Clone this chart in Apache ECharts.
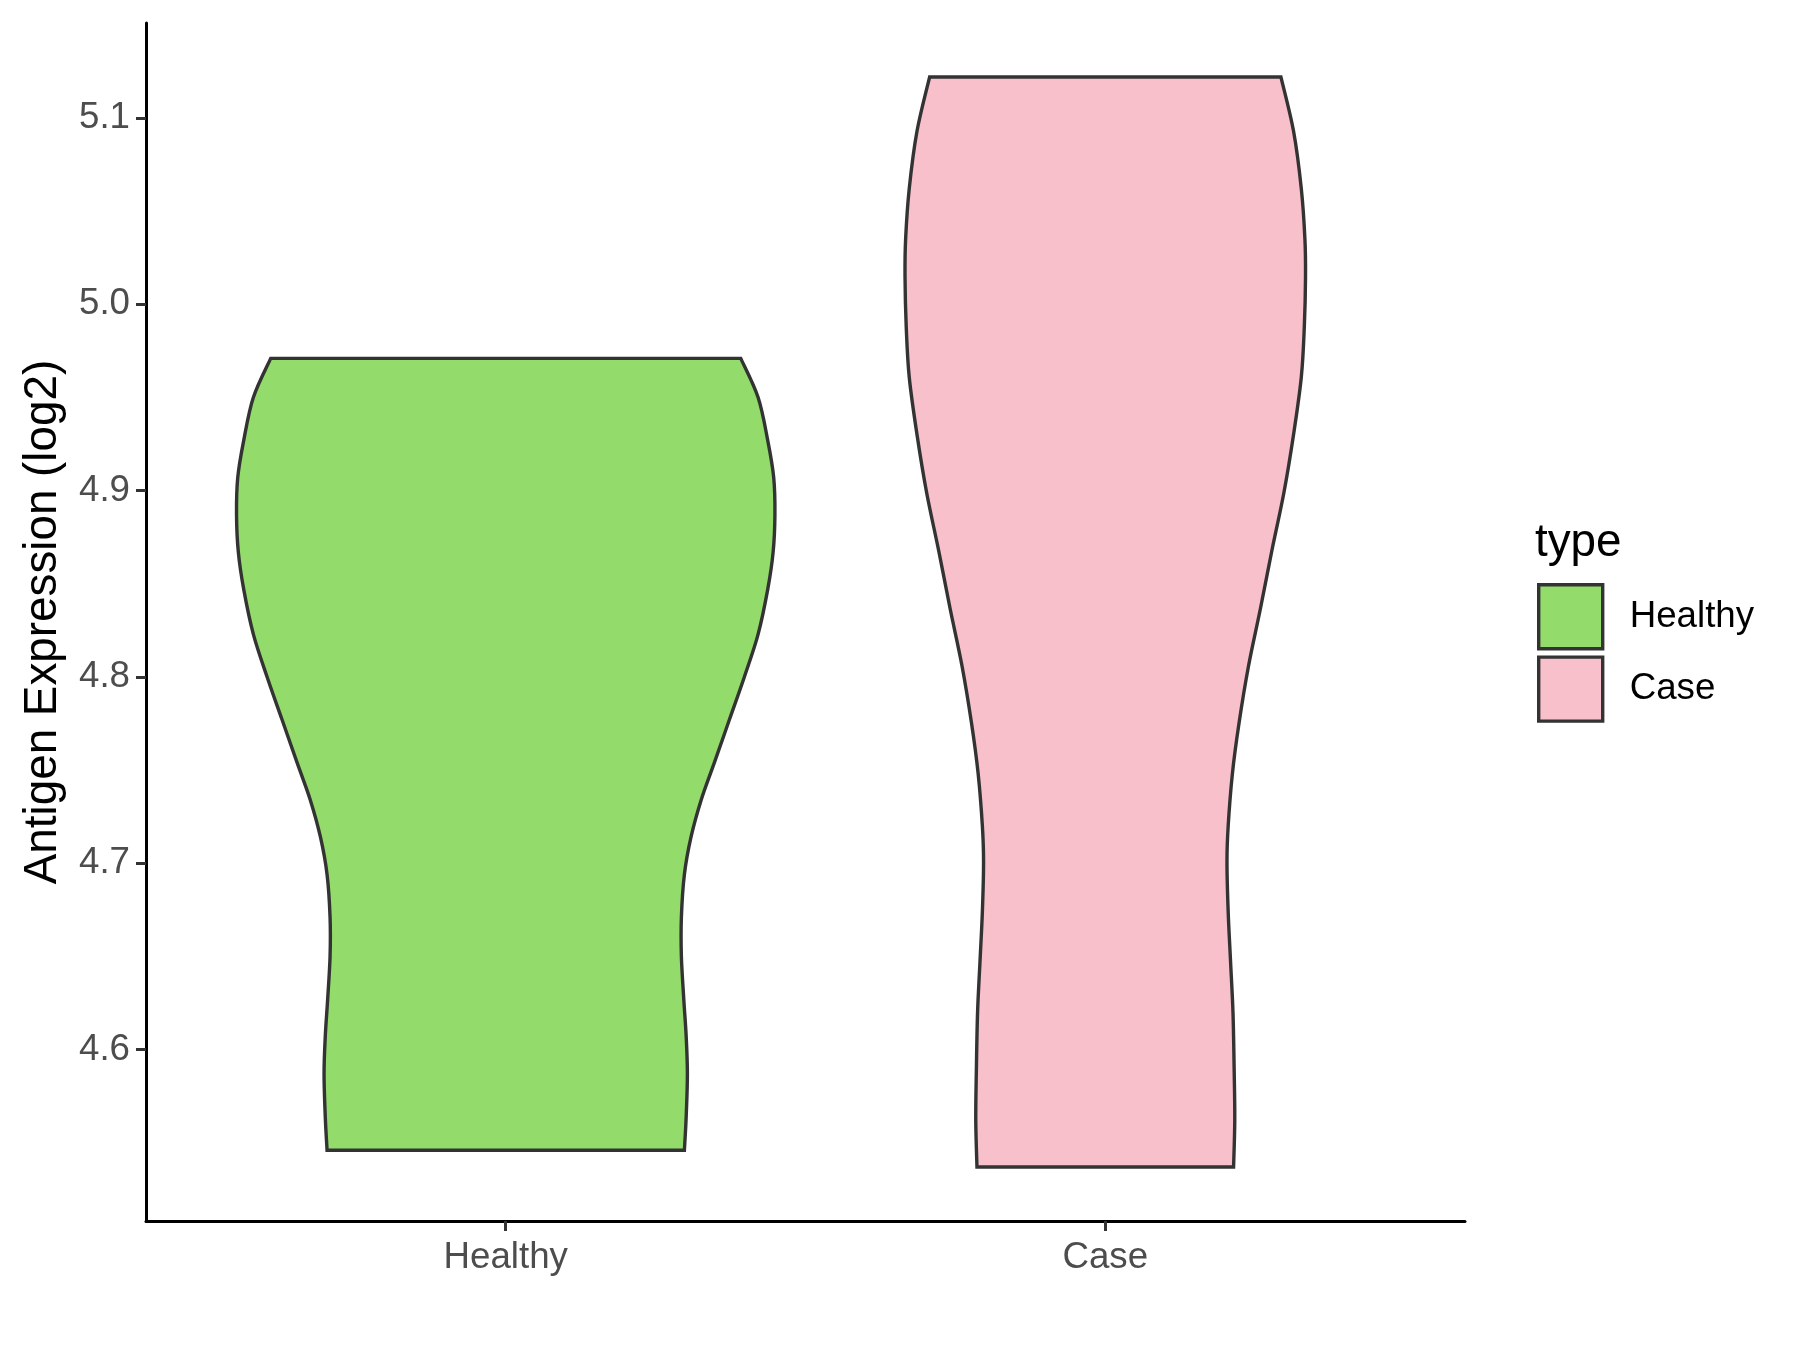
<!DOCTYPE html>
<html>
<head>
<meta charset="utf-8">
<script src="https://cdn.jsdelivr.net/npm/echarts@6/dist/echarts.min.js"></script>
<style>
html,body{margin:0;padding:0;background:#fff;}
#chart{width:1800px;height:1350px;}
</style>
</head>
<body>
<div id="chart"></div>
<script>
// ---- data ----
const categories = ['Healthy', 'Case'];
const yTicks = [4.6, 4.7, 4.8, 4.9, 5.0, 5.1];
// violin outlines: expression value (top to bottom) and half-width in category units
const healthyValues = [4.971, 4.950, 4.927, 4.907, 4.887, 4.867, 4.847, 4.823, 4.800, 4.777, 4.754, 4.734, 4.714, 4.694, 4.671, 4.650, 4.627, 4.607, 4.587, 4.564, 4.546];
const healthyHalfWidths = [0.392, 0.421, 0.437, 0.447, 0.449, 0.446, 0.437, 0.421, 0.398, 0.373, 0.348, 0.326, 0.309, 0.298, 0.293, 0.293, 0.297, 0.301, 0.303, 0.301, 0.298];
const caseValues = [5.122, 5.093, 5.062, 5.035, 5.015, 4.988, 4.961, 4.930, 4.899, 4.868, 4.837, 4.806, 4.775, 4.748, 4.720, 4.701, 4.674, 4.647, 4.620, 4.589, 4.562, 4.537];
const caseHalfWidths = [0.293, 0.314, 0.327, 0.333, 0.334, 0.332, 0.327, 0.314, 0.298, 0.278, 0.259, 0.239, 0.223, 0.212, 0.205, 0.203, 0.205, 0.209, 0.213, 0.215, 0.216, 0.214];
const colors = ['#93DB6A', '#F7C0CB'];

const profiles = [
  {values: healthyValues, hw: healthyHalfWidths},
  {values: caseValues, hw: caseHalfWidths}
];

const FONT = '"Liberation Sans", Arial, Helvetica, sans-serif';
const STROKE = '#333333';

// smooth curve through the given pixel points (Catmull-Rom drawn as cubic Beziers)
function curveThrough(pts) {
  let d = '';
  const n = pts.length;
  for (let i = 0; i < n - 1; i++) {
    const p0 = pts[Math.max(i - 1, 0)], p1 = pts[i], p2 = pts[i + 1], p3 = pts[Math.min(i + 2, n - 1)];
    const c1x = p1[0] + (p2[0] - p0[0]) / 6, c1y = p1[1] + (p2[1] - p0[1]) / 6;
    const c2x = p2[0] - (p3[0] - p1[0]) / 6, c2y = p2[1] - (p3[1] - p1[1]) / 6;
    d += ' C' + c1x.toFixed(2) + ',' + c1y.toFixed(2) + ' ' + c2x.toFixed(2) + ',' + c2y.toFixed(2) + ' ' + p2[0].toFixed(2) + ',' + p2[1].toFixed(2);
  }
  return d;
}

function makeRender(k) {
  return function (params, api) {
    const xc = api.value(0);
    const p = profiles[k];
    const right = p.values.map((v, i) => api.coord([xc + p.hw[i], v]));
    const left = p.values.map((v, i) => api.coord([xc - p.hw[i], v]));
    const n = right.length - 1;
    const leftUp = left.slice().reverse();
    let d = 'M' + right[0][0].toFixed(2) + ',' + right[0][1].toFixed(2);
    d += curveThrough(right);
    d += ' L' + left[n][0].toFixed(2) + ',' + left[n][1].toFixed(2);
    d += curveThrough(leftUp);
    d += ' Z';
    return {
      type: 'path',
      shape: {pathData: d},
      style: {fill: colors[k], stroke: STROKE, lineWidth: 3.4, lineJoin: 'miter'}
    };
  };
}

const chart = echarts.init(document.getElementById('chart'), null, {renderer: 'canvas'});
chart.setOption({
  backgroundColor: '#ffffff',
  animation: false,
  grid: {left: 146, right: 335, top: 23, bottom: 129, containLabel: false},
  xAxis: {
    type: 'value',
    min: -0.6,
    max: 1.6,
    splitLine: {show: false},
    axisLine: {show: true, onZero: false, lineStyle: {color: '#000', width: 3}},
    axisTick: {show: true, customValues: [0, 1], length: 10, lineStyle: {color: STROKE, width: 3}},
    axisLabel: {
      show: true, customValues: [0, 1], margin: 18,
      formatter: v => categories[Math.round(v)],
      fontFamily: FONT, fontSize: 36.7, color: '#4d4d4d'
    }
  },
  yAxis: {
    type: 'value',
    min: 4.508,
    max: 5.151,
    splitLine: {show: false},
    name: 'Antigen Expression (log2)',
    nameLocation: 'middle',
    nameGap: 80,
    nameTextStyle: {fontFamily: FONT, fontSize: 45.8, color: '#000'},
    axisLine: {show: true, onZero: false, lineStyle: {color: '#000', width: 3}},
    axisTick: {show: true, customValues: yTicks, length: 10, lineStyle: {color: STROKE, width: 3}},
    axisLabel: {
      show: true, customValues: yTicks, margin: 16,
      formatter: v => v.toFixed(1),
      fontFamily: FONT, fontSize: 36.7, color: '#4d4d4d'
    }
  },
  legend: {
    orient: 'vertical',
    left: 1532,
    top: 578,
    itemWidth: 64,
    itemHeight: 64,
    itemGap: 5,
    icon: 'rect',
    selectedMode: false,
    textStyle: {fontFamily: FONT, fontSize: 36.7, color: '#000', padding: [0, 0, 0, 22]},
    data: [
      {name: 'Healthy', itemStyle: {color: colors[0], borderColor: STROKE, borderWidth: 3.4}},
      {name: 'Case', itemStyle: {color: colors[1], borderColor: STROKE, borderWidth: 3.4}}
    ]
  },
  graphic: [{
    type: 'text',
    left: 1535,
    top: 520,
    style: {text: 'type', font: '45.8px ' + FONT, fill: '#000'}
  }],
  series: [
    {
      type: 'custom', name: 'Healthy', coordinateSystem: 'cartesian2d',
      data: [[0, healthyValues[0]]], encode: {x: 0, y: 1}, clip: false,
      itemStyle: {color: colors[0], borderColor: STROKE, borderWidth: 3.4},
      renderItem: makeRender(0)
    },
    {
      type: 'custom', name: 'Case', coordinateSystem: 'cartesian2d',
      data: [[1, caseValues[0]]], encode: {x: 0, y: 1}, clip: false,
      itemStyle: {color: colors[1], borderColor: STROKE, borderWidth: 3.4},
      renderItem: makeRender(1)
    }
  ]
});
</script>
</body>
</html>
